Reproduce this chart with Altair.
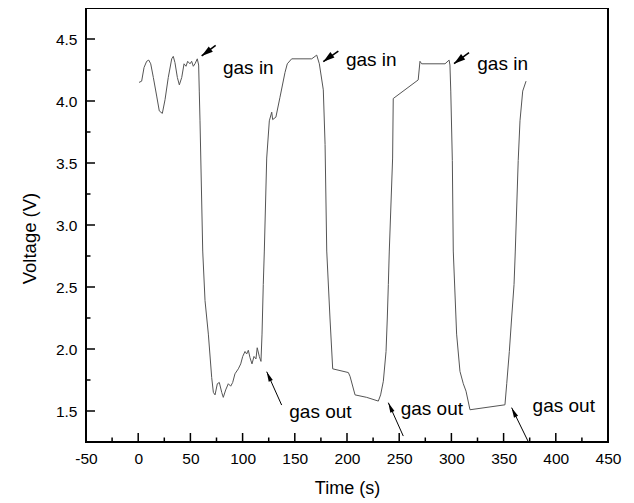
import altair as alt
import pandas as pd

# ---- data ----
time_s = [
    0.8, 3.3, 5.6, 8.1, 10.1, 12.0, 14.5, 17.7, 20.2, 23.1, 25.7, 28.8, 32.1, 33.6, 35.2,
    37.5, 39.4, 41.7, 43.9, 45.8, 47.4, 49.6, 51.2, 52.8, 54.4, 56.6, 57.9, 58.5, 59.2,
    61.8, 64.0, 67.2, 70.4, 72.0, 73.6, 75.8, 77.7, 80.0, 81.5, 83.8, 86.3, 88.6, 90.5,
    92.7, 95.9, 98.2, 100.1, 102.3, 103.9, 105.5, 107.1, 109.0, 110.9, 112.8, 114.0, 116.0, 117.6,
    118.6, 119.8, 120.8, 123.1, 125.6, 127.9, 128.8, 131.9, 135.8, 140.6, 142.8, 147.0, 155.0,
    166.2, 171.0, 173.5, 177.3, 179.0,
    180.6, 183.7, 186.3, 201.3, 202.9, 207.7, 218.9, 230.0, 232.2, 234.8, 237.4, 238.6, 239.6, 240.5,
    243.7, 244.3, 268.2, 269.9, 271.5, 293.9, 297.8, 298.6, 299.4, 300.9,
    301.8, 305.0, 308.2, 311.4, 314.0, 317.8, 351.3, 353.0, 355.5, 357.7, 360.0, 361.2,
    364.0, 365.7, 368.3, 371.5,
]
voltage = [
    4.15, 4.16, 4.27, 4.32, 4.33, 4.30, 4.19, 4.04, 3.92, 3.90, 4.01, 4.19, 4.34, 4.36, 4.31,
    4.19, 4.13, 4.19, 4.30, 4.28, 4.32, 4.30, 4.32, 4.28, 4.30, 4.34, 4.29, 4.08, 3.84,
    2.79, 2.39, 2.12, 1.77, 1.65, 1.63, 1.72, 1.73, 1.65, 1.61, 1.67, 1.72, 1.70, 1.73,
    1.80, 1.84, 1.88, 1.94, 1.98, 1.96, 1.99, 1.93, 1.88, 1.94, 1.92, 2.01, 1.94, 1.90,
    2.12, 2.52, 2.79, 3.54, 3.84, 3.91, 3.85, 3.87, 4.03, 4.23, 4.30, 4.34, 4.34,
    4.34, 4.37, 4.30, 4.09, 3.65,
    2.79, 2.25, 1.84, 1.81, 1.78, 1.63, 1.61, 1.58, 1.63, 1.74, 1.98, 2.25, 2.52, 2.79,
    3.54, 4.02, 4.17, 4.32, 4.30, 4.30, 4.33, 4.29, 4.08, 3.52,
    2.79, 2.12, 1.82, 1.72, 1.66, 1.51, 1.55, 1.72, 1.98, 2.25, 2.52, 2.79,
    3.52, 3.84, 4.08, 4.16,
]
assert len(time_s) == len(voltage)

x_major = [0, 50, 100, 150, 200, 250, 300, 350, 400]
x_minor = [-25, 25, 75, 125, 175, 225, 275, 325, 375, 425]
x_labels = [-50, 0, 50, 100, 150, 200, 250, 300, 350, 400, 450]
y_major = [1.5, 2.0, 2.5, 3.0, 3.5, 4.0, 4.5]
y_minor = [1.75, 2.25, 2.75, 3.25, 3.75, 4.25]

# annotations: arrows (tail -> head) and labels
arrow_kind = ["in", "in", "in", "out", "out", "out"]
arrow_head_t = [60.8, 177.3, 302.5, 123.1, 239.6, 357.7]
arrow_head_v = [4.363, 4.317, 4.301, 1.817, 1.567, 1.527]
arrow_tail_t = [74.2, 191.7, 316.9, 137.4, 253.9, 373.6]
arrow_tail_v = [4.449, 4.403, 4.390, 1.548, 1.298, 1.253]
arrow_angle = [233, 233, 233, 336, 336, 334]
label_text = ["gas in", "gas in", "gas in", "gas out", "gas out", "gas out"]
label_t = [81.2, 199.0, 324.8, 144.7, 251.4, 377.8]
label_v = [4.218, 4.282, 4.250, 1.446, 1.465, 1.494]

W, H = 522, 434
FONT = "Liberation Sans"
xs = alt.Scale(domain=[-50, 450], nice=False, zero=False)
ys = alt.Scale(domain=[1.25, 4.75], nice=False, zero=False)

df = pd.DataFrame({"t": time_s, "v": voltage, "i": range(len(time_s))})
arrows = pd.DataFrame({"kind": arrow_kind, "ht": arrow_head_t, "hv": arrow_head_v,
                       "tt": arrow_tail_t, "tv": arrow_tail_v, "ang": arrow_angle})
labels = pd.DataFrame({"txt": label_text, "t": label_t, "v": label_v})

line = alt.Chart(df).mark_line(color="#555555", strokeWidth=1).encode(
    x=alt.X("t:Q", scale=xs, axis=alt.Axis(
        values=x_labels, labelExpr="'' + datum.value", title="Time (s)",
        domain=False, ticks=False, grid=False,
        labelFont=FONT, labelFontSize=15.5, labelColor="black", labelPadding=9,
        labelFlush=False, labelOverlap=False,
        titleFont=FONT, titleFontSize=18, titleFontWeight="normal", titleColor="black",
        titlePadding=13)),
    y=alt.Y("v:Q", scale=ys, axis=alt.Axis(
        values=y_major, format=".1f", title="Voltage  (V)", domain=False, ticks=False, grid=False,
        labelFont=FONT, labelFontSize=15.5, labelColor="black", labelPadding=9,
        labelOverlap=False,
        titleFont=FONT, titleFontSize=18.5, titleFontWeight="normal", titleColor="black",
        titlePadding=16, titleY=230)),
    order="i:Q",
)

xmaj = alt.Chart(pd.DataFrame({"t": x_major})).mark_rule(color="black", strokeWidth=1.5).encode(
    x=alt.X("t:Q", scale=xs), y=alt.value(H), y2=alt.value(H - 9))
xmin = alt.Chart(pd.DataFrame({"t": x_minor})).mark_rule(color="black", strokeWidth=1.5).encode(
    x=alt.X("t:Q", scale=xs), y=alt.value(H), y2=alt.value(H - 4.5))
ymaj = alt.Chart(pd.DataFrame({"v": y_major})).mark_rule(color="black", strokeWidth=1.5).encode(
    y=alt.Y("v:Q", scale=ys), x=alt.value(0), x2=alt.value(9))
ymin = alt.Chart(pd.DataFrame({"v": y_minor})).mark_rule(color="black", strokeWidth=1.5).encode(
    y=alt.Y("v:Q", scale=ys), x=alt.value(0), x2=alt.value(4.5))

shafts = alt.Chart(arrows).mark_rule(color="black").encode(
    x=alt.X("tt:Q", scale=xs), y=alt.Y("tv:Q", scale=ys), x2="ht:Q", y2="hv:Q",
    strokeWidth=alt.condition(alt.datum.kind == "in", alt.value(1.6), alt.value(1)))
heads_in = alt.Chart(arrows).transform_filter(alt.datum.kind == "in").mark_point(
    shape="M0,0 L0.6,2 L-0.6,2 Z", filled=True, color="black", opacity=1, size=130,
    strokeWidth=0).encode(
    x=alt.X("ht:Q", scale=xs), y=alt.Y("hv:Q", scale=ys), angle=alt.Angle("ang:Q", scale=None))
heads_out = alt.Chart(arrows).transform_filter(alt.datum.kind == "out").mark_point(
    shape="M0,0 L0.45,2 L-0.45,2 Z", filled=True, color="black", opacity=1, size=100,
    strokeWidth=0).encode(
    x=alt.X("ht:Q", scale=xs), y=alt.Y("hv:Q", scale=ys), angle=alt.Angle("ang:Q", scale=None))

texts = alt.Chart(labels).mark_text(align="left", baseline="alphabetic", font=FONT,
                                    fontSize=19, color="black").encode(
    x=alt.X("t:Q", scale=xs), y=alt.Y("v:Q", scale=ys), text="txt:N")

chart = alt.layer(line, xmaj, xmin, ymaj, ymin, shafts, heads_in, heads_out, texts).properties(
    width=W, height=H,
    padding={"left": 78, "top": 0, "right": 18, "bottom": 59},
    autosize=alt.AutoSizeParams(type="none"),
    background="white",
).configure_view(stroke="black", strokeWidth=2)

chart.save("out.html", embed_options={"renderer": "svg", "actions": False})
